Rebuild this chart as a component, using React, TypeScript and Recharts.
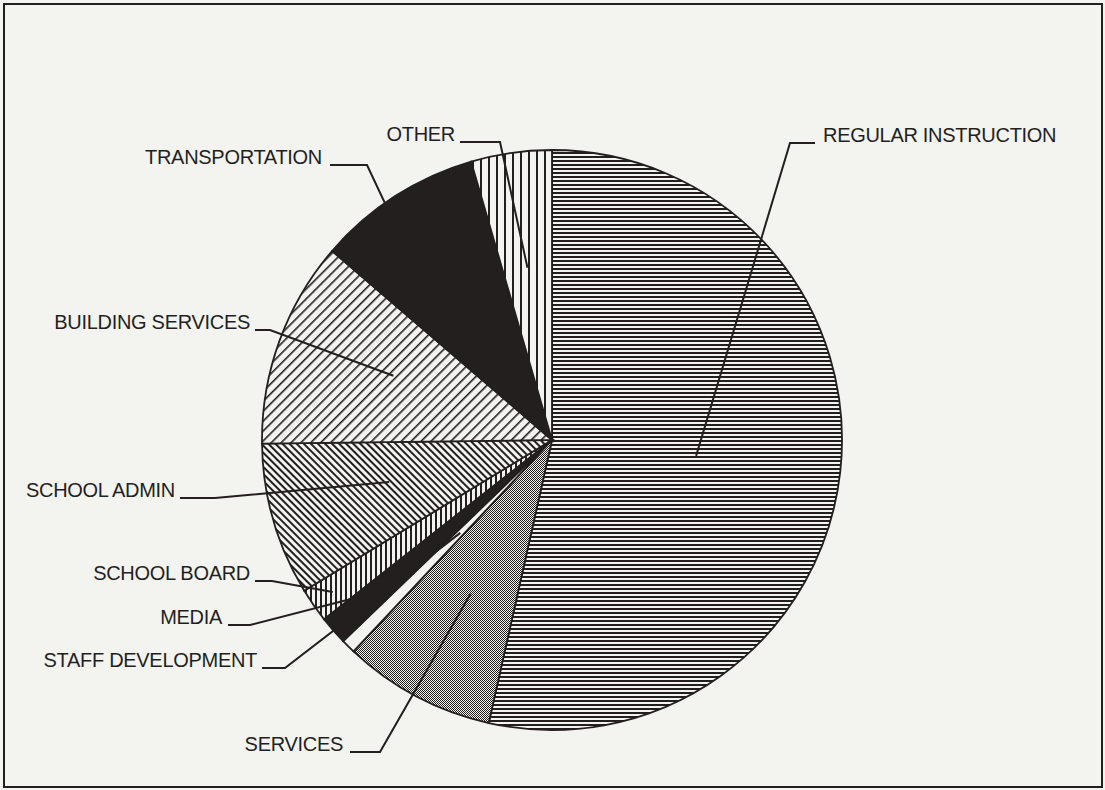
import * as React from "react"
import { PieChart, Pie, Cell } from "recharts"

// budget shares (percent), read clockwise from 12 o'clock
const categories = [
  "REGULAR INSTRUCTION",
  "SERVICES",
  "STAFF DEVELOPMENT",
  "MEDIA",
  "SCHOOL BOARD",
  "SCHOOL ADMIN",
  "BUILDING SERVICES",
  "TRANSPORTATION",
  "OTHER",
]
const shares = [53.5, 8.5, 0.8, 1.6, 1.9, 8.5, 11.5, 9.2, 4.5]

const INK = "#231f1f"
const PAPER = "#f3f3ef"

const fills = [
  "url(#hlines)",
  "url(#dots)",
  PAPER,
  INK,
  "url(#vfine)",
  "url(#back)",
  "url(#fwd)",
  INK,
  "url(#vwide)",
]

// label placement: text position, elbow, and where the leader ends inside the slice
// t = position across slice (0 start .. 1 end), rf = fraction of radius
const labelLayout = [
  { tx: 823, ty: 142, anchor: "start", lx: 815, ex: 790, t: 0.5, rf: 0.5 },
  { tx: 343, ty: 751, anchor: "end", lx: 350, ex: 380, t: 0.5, rf: 0.6 },
  { tx: 257, ty: 667, anchor: "end", lx: 262, ex: 285, t: 0.5, rf: 0.45 },
  { tx: 222, ty: 624, anchor: "end", lx: 228, ex: 250, t: 0.5, rf: 0.8 },
  { tx: 250, ty: 580, anchor: "end", lx: 255, ex: 272, t: 0.5, rf: 0.92 },
  { tx: 175, ty: 497, anchor: "end", lx: 180, ex: 215, t: 0.55, rf: 0.58 },
  { tx: 250, ty: 329, anchor: "end", lx: 255, ex: 270, t: 0.55, rf: 0.59 },
  { tx: 322, ty: 164, anchor: "end", lx: 330, ex: 367, t: 0.35, rf: 0.8 },
  { tx: 455, ty: 141, anchor: "end", lx: 460, ex: 500, t: 0.5, rf: 0.6 },
]

const data = categories.map((name, i) => ({ name, value: shares[i] }))

const RAD = Math.PI / 180

function renderLabel(props: any) {
  const { cx, cy, outerRadius, startAngle, endAngle, index, name } = props
  const L = labelLayout[index]
  const ang = startAngle + (endAngle - startAngle) * L.t
  const r = outerRadius * L.rf
  const px = cx + r * Math.cos(-ang * RAD)
  const py = cy + r * Math.sin(-ang * RAD)
  const ly = L.ty + 1
  return (
    <g key={`lbl-${index}`}>
      <polyline
        points={`${L.lx},${ly} ${L.ex},${ly} ${px},${py}`}
        fill="none"
        stroke={INK}
        strokeWidth={2}
      />
      <text
        x={L.tx}
        y={L.ty}
        textAnchor={L.anchor}
        fill={INK}
        fontSize={20}
        fontFamily="Liberation Sans, Arial, sans-serif"
        letterSpacing={-0.3}
      >
        {name}
      </text>
    </g>
  )
}

export default function App() {
  return (
    <div
      style={{
        position: "fixed",
        left: 0,
        top: 0,
        width: 1105,
        height: 790,
        background: PAPER,
      }}
    >
      <div
        style={{
          position: "absolute",
          left: 3,
          top: 3,
          width: 1096,
          height: 781,
          border: `2px solid ${INK}`,
        }}
      />
      <PieChart width={1105} height={790} style={{ position: "absolute", left: 0, top: 0 }}>
        <defs>
          <pattern id="hlines" width="4" height="4" patternUnits="userSpaceOnUse">
            <rect width="4" height="4" fill={PAPER} />
            <rect width="4" height="2" fill={INK} />
          </pattern>
          <pattern id="dots" width="2" height="2" patternUnits="userSpaceOnUse">
            <rect width="2" height="2" fill={PAPER} />
            <rect width="1" height="1" fill={INK} />
            <rect x="1" y="1" width="1" height="1" fill={INK} />
          </pattern>
          <pattern id="vfine" width="5" height="5" patternUnits="userSpaceOnUse">
            <rect width="5" height="5" fill={PAPER} />
            <rect width="2" height="5" fill={INK} />
          </pattern>
          <pattern id="vwide" width="8" height="8" patternUnits="userSpaceOnUse">
            <rect width="8" height="8" fill={PAPER} />
            <rect width="2" height="8" fill={INK} />
          </pattern>
          <pattern id="fwd" width="7" height="7" patternUnits="userSpaceOnUse" patternTransform="rotate(45)">
            <rect width="7" height="7" fill={PAPER} />
            <rect width="1.6" height="7" fill={INK} />
          </pattern>
          <pattern id="back" width="5" height="5" patternUnits="userSpaceOnUse" patternTransform="rotate(-45)">
            <rect width="5" height="5" fill={PAPER} />
            <rect width="2" height="5" fill={INK} />
          </pattern>
        </defs>
        <Pie
          data={data}
          dataKey="value"
          nameKey="name"
          cx={547}
          cy={435}
          outerRadius={290}
          startAngle={90}
          endAngle={-270}
          stroke={INK}
          strokeWidth={1.8}
          label={renderLabel}
          labelLine={false}
          isAnimationActive={false}
        >
          {data.map((d, i) => (
            <Cell key={`cell-${i}`} fill={fills[i]} />
          ))}
        </Pie>
      </PieChart>
    </div>
  )
}
